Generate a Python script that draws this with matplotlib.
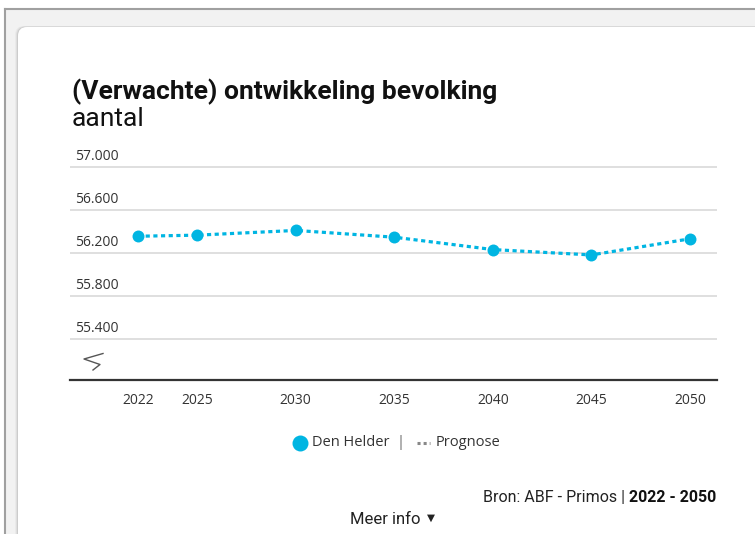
import matplotlib
matplotlib.use("Agg")
import matplotlib.pyplot as plt
import matplotlib.transforms as mtrans
from matplotlib.patches import Rectangle, FancyBboxPatch
from matplotlib.lines import Line2D

years = [2022, 2025, 2030, 2035, 2040, 2045, 2050]
values = [56357, 56367, 56411, 56348, 56233, 56183, 56333]
yticks = [55400, 55800, 56200, 56600, 57000]
ytick_labels = ["55.400", "55.800", "56.200", "56.600", "57.000"]
series_name = "Den Helder"
prognose_name = "Prognose"
title = "(Verwachte) ontwikkeling bevolking"
subtitle = "aantal"

W, H = 755, 534
COLOR = "#00b5e2"
fig = plt.figure(figsize=(W / 100, H / 100), dpi=100)
fig.patch.set_facecolor("white")

def fx(px):
    return px / W

def fy(py):
    return 1 - py / H

# page background
bg = fig.add_axes([0, 0, 1, 1], zorder=-10)
bg.set_xlim(0, W)
bg.set_ylim(H, 0)
bg.axis("off")
bg.add_patch(Rectangle((5, 9), W, H, facecolor="#f2f2f2", edgecolor="none"))
bg.add_line(Line2D([5, W], [9, 9], color="#a0a0a0", lw=1.5))
bg.add_line(Line2D([5, 5], [9, H], color="#a0a0a0", lw=1.5))
for i, a in enumerate([0.03, 0.05, 0.08]):
    bg.add_patch(FancyBboxPatch((18 - 3 + i, 27 - 1 + i * 0.3), W, H,
                                boxstyle="round,pad=0,rounding_size=9",
                                facecolor="black", alpha=a, edgecolor="none"))
bg.add_patch(FancyBboxPatch((18, 27), W, H, boxstyle="round,pad=0,rounding_size=9",
                            facecolor="white", edgecolor="none"))

# main axes
left, right, top, bottom = 70, 717, 160, 380
ax = fig.add_axes([fx(left), fy(bottom), fx(right - left), (bottom - top) / H])
ax.set_facecolor("none")
ax.set_xlim(2018.55, 2051.37)
ax.set_ylim(55020, 57066)
for s in ["top", "right", "left"]:
    ax.spines[s].set_visible(False)
ax.spines["bottom"].set_color("#333333")
ax.spines["bottom"].set_linewidth(1.6)
ax.set_yticks(yticks)
ax.set_yticklabels([])
ax.tick_params(axis="y", length=0)
ax.grid(axis="y", color="#d9d9d9", lw=1.2)
ax.set_xticks(years)
ax.set_xticklabels([str(y) for y in years], fontsize=10, color="#333333",
                   family=["Open Sans", "DejaVu Sans"])
ax.tick_params(axis="x", length=0, pad=9)
for v, lab in zip(yticks, ytick_labels):
    ax.text(0.008, v + 25, lab, transform=ax.get_yaxis_transform(), ha="left",
            va="bottom", fontsize=10, color="#333333",
            family=["Open Sans", "DejaVu Sans"])

ax.plot(years, values, color=COLOR, lw=2.3, linestyle=(0, (1.3, 1.1)),
        marker="o", markersize=8.6, markeredgewidth=0, zorder=3, clip_on=False)

# axis break symbol (decoration)
bg2 = fig.add_axes([0, 0, 1, 1], zorder=4)
bg2.set_xlim(0, W)
bg2.set_ylim(H, 0)
bg2.axis("off")
bg2.add_line(Line2D([103, 84, 100, 93], [353.5, 359, 364.5, 370],
                    color="#555555", lw=1.0))

# titles
fig.text(fx(72), fy(99), title, fontsize=19, fontweight="bold",
         family=["Roboto", "DejaVu Sans"], color="#111111", va="baseline")
fig.text(fx(72), fy(126), subtitle, fontsize=19,
         family=["Roboto", "DejaVu Sans"], color="#111111", va="baseline")

# legend
lg = bg2
lg.add_line(Line2D([300], [443], marker="o", markersize=11.5, color=COLOR,
                   markeredgewidth=0))
lg.text(312, 443, series_name, fontsize=10.5, va="center", ha="left",
        family=["Open Sans", "DejaVu Sans"], color="#333333")
lg.text(400, 443, "|", fontsize=10.5, va="center", ha="center",
        family=["Open Sans", "DejaVu Sans"], color="#666666")
lg.add_line(Line2D([417, 430], [443, 443], color="#888888", lw=2.2,
                   linestyle=(0, (1.0, 1.0))))
lg.text(436, 443, prognose_name, fontsize=10.5, va="center", ha="left",
        family=["Open Sans", "DejaVu Sans"], color="#333333")

# source
t2 = lg.text(716, 497, "2022 - 2050", fontsize=11.5, fontweight="bold",
             ha="right", va="center", family=["Roboto", "DejaVu Sans"], color="#111111")
fig.canvas.draw()
x_end = t2.get_window_extent().x0
lg.text(x_end, 497, "Bron: ABF - Primos | ", fontsize=11.5, ha="right",
        va="center", family=["Roboto", "DejaVu Sans"], color="#222222",
        transform=mtrans.blended_transform_factory(mtrans.IdentityTransform(), lg.transData))
lg.text(350, 519, "Meer info", fontsize=12, ha="left", va="center",
        family=["Roboto", "DejaVu Sans"], color="#222222")
lg.text(427, 518, "\u25BC", fontsize=7.5, ha="left", va="center",
        family=["DejaVu Sans"], color="#222222")

fig.savefig("out.png", dpi=100, facecolor="white")
